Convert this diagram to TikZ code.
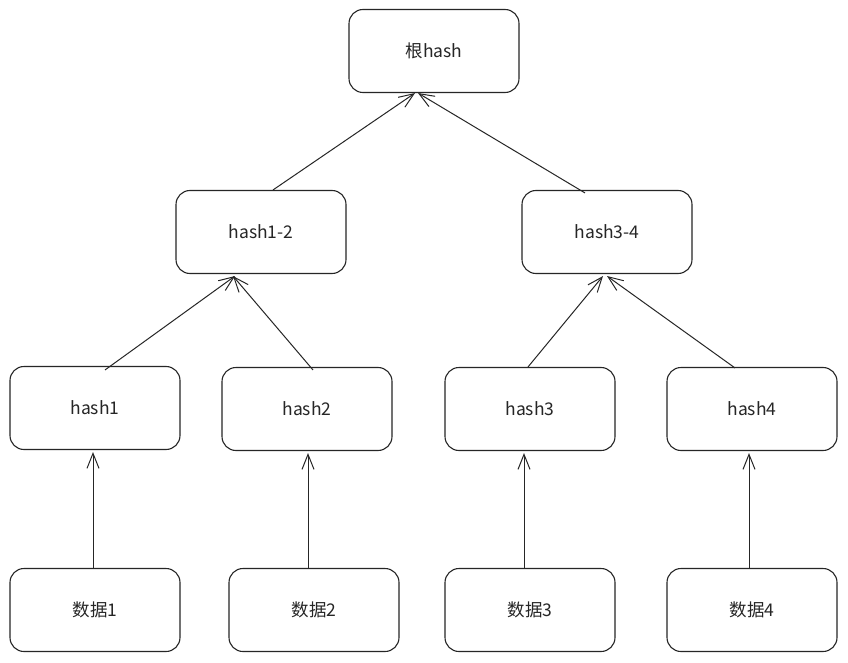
\documentclass[tikz,border=0pt]{standalone}
\usepackage{fontspec}
\newfontfamily\cjk{Noto Sans CJK SC}
\usetikzlibrary{arrows.meta}
\begin{document}
\begin{tikzpicture}[x=1pt,y=-1pt,
  box/.style={draw=black!85,line width=1.1pt,rounded corners=14pt,minimum width=170pt,minimum height=83pt,font=\cjk\fontsize{17.5}{20}\selectfont,text=black!85},
  conn/.style={draw=black!85,line width=1pt,-{Straight Barb[length=15pt,width=12pt,line width=1pt]}}]
\useasboundingbox[fill=white] (0,0) rectangle (848,663);
\node[box] (root) at (434,51) {根hash};
\node[box] (h12) at (261,232) {hash1-2};
\node[box] (h34) at (607,232) {hash3-4};
\node[box] (h1) at (95,408) {hash1};
\node[box] (h2) at (307,409) {hash2};
\node[box] (h3) at (530,409) {hash3};
\node[box] (h4) at (752,409) {hash4};
\node[box] (d1) at (95,610) {数据1};
\node[box] (d2) at (314,610) {数据2};
\node[box] (d3) at (530,610) {数据3};
\node[box] (d4) at (752,610) {数据4};
\draw[conn] ([xshift=12pt]h12.north) -- ([xshift=-19pt]root.south);
\draw[conn] ([xshift=-22pt,yshift=-3pt]h34.north) -- ([xshift=-16pt]root.south);
\draw[conn] ([xshift=10pt,yshift=-4pt]h1.north) -- ([xshift=-26pt,yshift=-2pt]h12.south);
\draw[conn] ([xshift=6pt,yshift=-3pt]h2.north) -- ([xshift=-28pt,yshift=-2pt]h12.south);
\draw[conn] ([xshift=-2pt]h3.north) -- ([xshift=-4pt,yshift=-2pt]h34.south);
\draw[conn] ([xshift=-17pt,yshift=-1pt]h4.north) -- ([yshift=-2pt]h34.south);
\draw[conn] ([xshift=-2pt]d1.north) -- ([xshift=-2pt,yshift=-2pt]h1.south);
\draw[conn] ([xshift=-6pt]d2.north) -- ([xshift=1pt,yshift=-2pt]h2.south);
\draw[conn] ([xshift=-6pt]d3.north) -- ([xshift=-6pt,yshift=-2pt]h3.south);
\draw[conn] ([xshift=-3pt]d4.north) -- ([xshift=-3pt,yshift=-2pt]h4.south);
\end{tikzpicture}
\end{document}
